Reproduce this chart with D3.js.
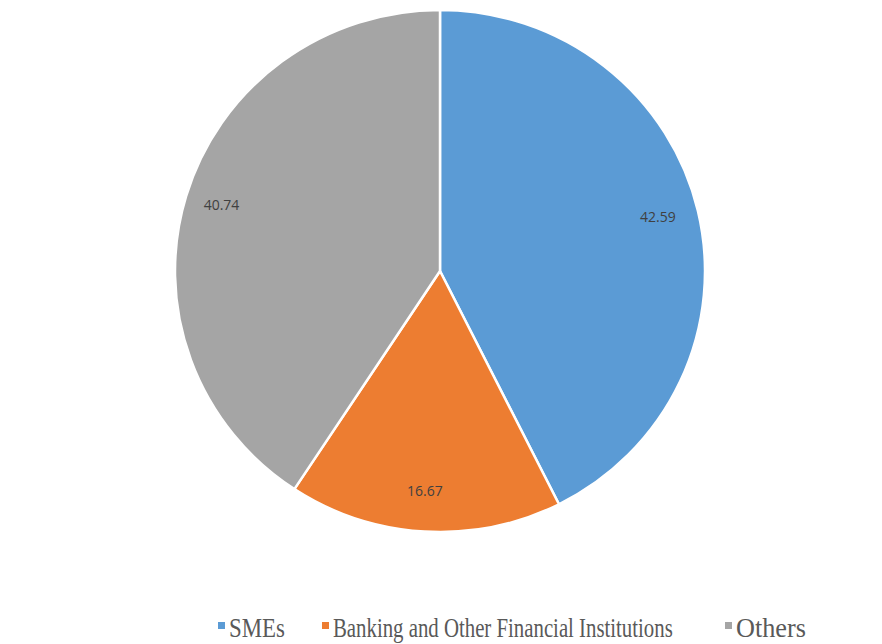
<!DOCTYPE html>
<html>
<head>
<meta charset="utf-8">
<script src="https://cdn.jsdelivr.net/npm/d3@7"></script>
<style>
html,body{margin:0;padding:0;background:#fff;}
svg{display:block;}
</style>
</head>
<body>
<svg id="chart" width="882" height="644"></svg>
<script>
const categories = ["SMEs", "Banking and Other Financial Institutions", "Others"];
const values = [42.59, 16.67, 40.74];
const colors = ["#5B9BD5", "#ED7D31", "#A5A5A5"];

const svg = d3.select("#chart");
const cx = 440, cy = 271, r = 265;
const g = svg.append("g").attr("transform", `translate(${cx},${cy}) scale(1,0.985)`);

const data = categories.map((c, i) => ({ name: c, value: values[i], color: colors[i] }));
const pie = d3.pie().value(d => d.value).sort(null);
const arc = d3.arc().innerRadius(0).outerRadius(r);

const arcs = pie(data);
g.selectAll("path").data(arcs).enter().append("path")
  .attr("d", arc)
  .attr("fill", d => d.data.color)
  .attr("stroke", "#fff")
  .attr("stroke-width", 2.5)
  .attr("stroke-linejoin", "round");

const lr = 226;
svg.append("g").selectAll("text").data(arcs).enter().append("text")
  .attr("x", d => cx + lr * Math.sin((d.startAngle + d.endAngle) / 2) - 2)
  .attr("y", d => cy - lr * Math.cos((d.startAngle + d.endAngle) / 2) * 0.985 - 3)
  .attr("text-anchor", "middle")
  .attr("dominant-baseline", "central")
  .attr("font-family", "'Open Sans', 'Liberation Sans', sans-serif")
  .attr("font-size", 14)
  .attr("fill", "#404040")
  .text(d => d.data.value.toFixed(2));

// Legend
const legendY = 626;
const legendX = [218, 322, 725];
const legendTextW = [56, 340, 70];
const lg = svg.append("g");
data.forEach((d, i) => {
  lg.append("rect")
    .attr("x", legendX[i]).attr("y", legendY - 4)
    .attr("width", 7).attr("height", 7)
    .attr("fill", d.color);
  const t = lg.append("text")
    .attr("x", 0).attr("y", 0)
    .attr("font-family", "'Liberation Serif', 'Times New Roman', serif")
    .attr("font-size", 22)
    .attr("fill", "#595959")
    .text(d.name);
  const w = t.node().getComputedTextLength();
  const sx = legendTextW[i] / w;
  t.attr("transform", `translate(${legendX[i] + 11},637) scale(${sx},1.22)`);
});
</script>
</body>
</html>
